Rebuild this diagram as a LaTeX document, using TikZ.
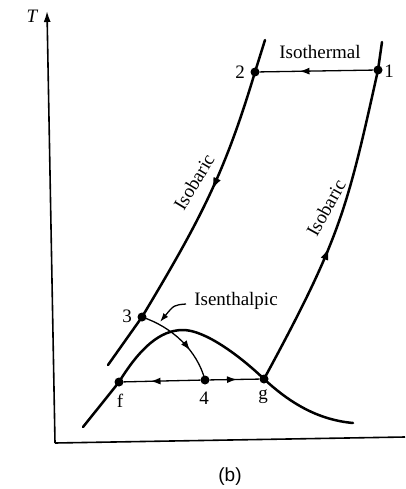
\documentclass[tikz,border=0pt]{standalone}
\usepackage{fontspec}
\setmainfont{Liberation Serif}
\newfontfamily\capfont{Liberation Sans}
\usetikzlibrary{arrows.meta,decorations.markings}
\begin{document}
\begin{tikzpicture}[x=1pt,y=-1pt,
  thickline/.style={line width=2.5pt,line cap=round},
  thinline/.style={line width=1.3pt},
  axisline/.style={line width=1.6pt},
  dot/.style={circle,fill=black,inner sep=0pt,minimum size=9pt},
  lab/.style={font=\fontsize{19}{22}\selectfont,inner sep=1pt},
  midarrow/.style={postaction={decorate},decoration={markings,mark=at position #1 with {\arrow{Latex[length=10pt,width=7pt]}}}},
  bigarrow/.style={postaction={decorate},decoration={markings,mark=at position #1 with {\arrow{Latex[length=13pt,width=8pt]}}}},
]
\useasboundingbox (0,0) rectangle (405,489);
% axes
\coordinate (origin) at (55,443);
\coordinate (ytop) at (47,11);
\coordinate (xend) at (405,437);
\draw[axisline,-{Latex[length=11pt,width=7pt]}] (origin) -- (ytop);
\draw[axisline] (origin) -- (xend);
\node[lab] (tlab) at (32,16) {\itshape T};
% state points
\node[dot] (n1) at (378,70) {};
\node[dot] (n2) at (255,72) {};
\node[dot] (n3) at (142,317) {};
\node[dot] (n4) at (205,380) {};
\node[dot] (nf) at (119,382) {};
\node[dot] (ng) at (264,379) {};
\coordinate (lt) at (265,40);
\coordinate (lb) at (108,365);
\coordinate (rt) at (382,42);
\coordinate (dl) at (83,427);
\coordinate (dp) at (183,330);
\coordinate (dr) at (353,423);
% left isobaric
\draw[thickline,bigarrow=0.44] (lt) -- (n2.center) .. controls (225,172) and (202,217) .. (n3.center) -- (lb);
% right isobaric
\draw[thickline,bigarrow=0.41] (ng.center) .. controls (340,239) and (347,210) .. (n1.center) -- (rt);
% dome
\draw[thickline] (dl) .. controls (95,412) and (108,396) .. (nf.center)
  .. controls (140,348) and (160,330) .. (dp)
  .. controls (205,330) and (240,356) .. (ng.center)
  .. controls (292,405) and (320,420) .. (dr);
% isothermal
\draw[thinline,midarrow=0.65] (n1) -- (n2);
% horizontal f-4-g
\draw[thinline,midarrow=0.65] (n4) -- (nf);
\draw[thinline,midarrow=0.55] (n4) -- (ng);
% isenthalpic
\draw[thinline,midarrow=0.64] (n3.center) .. controls (172,327) and (197,350) .. (n4.center);
% labels
\node[lab] (l1) at (389,71) {1};
\node[lab] (l2) at (240,72) {2};
\node[lab] (l3) at (127,316) {3};
\node[lab] (l4) at (204,398) {4};
\node[lab] (lf) at (120,401) {f};
\node[lab] (lg) at (263,397) {g};
\node[lab] (tiso) at (320,52) {Isothermal};
\node[lab,rotate=59] (tbl) at (194,182) {Isobaric};
\node[lab,rotate=61] (tbr) at (326,208) {Isobaric};
\node[lab] (tisen) at (236,301) {Isenthalpic};
\coordinate (ldr) at (186,304);
\coordinate (ldrend) at (160,322);
\draw[thinline,-{Latex[length=9pt,width=6pt]}] (ldr) .. controls (174,305) .. (ldrend);
\node[lab] (cap) at (230,477) {\capfont (b)};
\end{tikzpicture}
\end{document}
